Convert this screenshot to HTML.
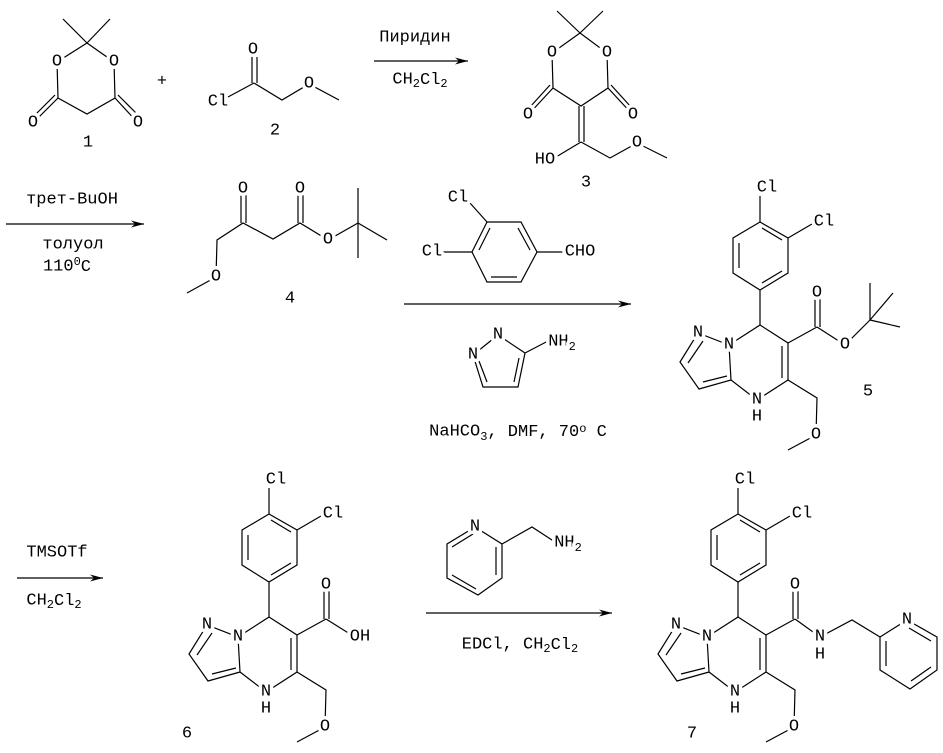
<!DOCTYPE html>
<html><head><meta charset="utf-8"><style>
html,body{margin:0;padding:0;background:#fff;}
svg{display:block;}
line,polyline,polygon.r{stroke:#000;stroke-width:1.2;fill:none;}
text{font-family:"Liberation Mono",monospace;font-size:17px;fill:#000;text-anchor:middle;dominant-baseline:central;}
text.a{paint-order:stroke;stroke:#fff;stroke-width:7px;stroke-linejoin:round;}
.s{font-size:12px;}
</style></head><body>
<svg width="943" height="753" viewBox="0 0 943 753" xmlns="http://www.w3.org/2000/svg">
<defs><marker id="ah" markerWidth="14" markerHeight="8" refX="13" refY="4" orient="auto" markerUnits="userSpaceOnUse"><polygon points="0,0.5 13,4 0,7.5 4,4" fill="#000"/></marker></defs>

<!-- Compound 1 -->
<line x1="87" y1="43" x2="63" y2="19"/><line x1="87" y1="43" x2="110" y2="19"/>
<polyline points="87,43 57,62 58,98 87,114 115,98 114,62 87,43"/>
<line x1="58" y1="98" x2="33" y2="123"/><line x1="55" y1="95" x2="35" y2="115"/>
<line x1="115" y1="98" x2="138" y2="123"/><line x1="118" y1="95" x2="138" y2="115"/>
<text class="a" x="57" y="62">O</text><text class="a" x="114" y="62">O</text>
<text class="a" x="33" y="123">O</text><text class="a" x="138" y="123">O</text>
<text x="88" y="143">1</text>
<text x="162" y="82">+</text>

<!-- Compound 2 -->
<line x1="228" y1="97" x2="254" y2="83"/>
<line x1="252" y1="83" x2="252" y2="55"/><line x1="257" y1="83" x2="257" y2="57"/>
<polyline points="254,83 282,100 309,84 339,100"/>
<text class="a" x="218" y="102">Cl</text><text class="a" x="253" y="50">O</text><text class="a" x="309" y="84">O</text>
<text x="275" y="131">2</text>

<!-- Arrow 1 -->
<line x1="374" y1="61" x2="468" y2="61" marker-end="url(#ah)"/>
<text x="415" y="38">Пиридин</text>
<text x="420" y="80">CH<tspan class="s" dy="4">2</tspan><tspan dy="-4">Cl</tspan><tspan class="s" dy="4">2</tspan></text>

<!-- Compound 3 -->
<line x1="580" y1="33" x2="557" y2="11"/><line x1="580" y1="33" x2="603" y2="11"/>
<polyline points="580,33 552,53 553,88 581,106 608,88 607,53 580,33"/>
<line x1="553" y1="88" x2="528" y2="115"/><line x1="550" y1="85" x2="530" y2="107"/>
<line x1="608" y1="88" x2="633" y2="115"/><line x1="611" y1="85" x2="631" y2="107"/>
<line x1="579" y1="106" x2="579" y2="142"/><line x1="584" y1="106" x2="584" y2="142"/>
<line x1="581" y1="142" x2="556" y2="157"/>
<polyline points="581,142 610,158 637,143 667,158"/>
<text class="a" x="552" y="53">O</text><text class="a" x="607" y="53">O</text>
<text class="a" x="528" y="115">O</text><text class="a" x="633" y="115">O</text>
<text class="a" x="545" y="160">HO</text><text class="a" x="637" y="143">O</text>
<text x="586" y="183">3</text>

<!-- Arrow 2 -->
<line x1="6" y1="224" x2="144" y2="224" marker-end="url(#ah)"/>
<text x="72" y="200">трет-BuOH</text>
<text x="73" y="245">толуол</text>
<text x="67" y="267">110<tspan class="s" dy="-5">0</tspan><tspan dy="5">C</tspan></text>

<!-- Compound 4 -->
<line x1="241" y1="223" x2="241" y2="195"/><line x1="246" y1="223" x2="246" y2="195"/>
<polyline points="187,293 216,277 217,240 243,223 273,239 300,223 328,240 358,223"/>
<line x1="298" y1="223" x2="298" y2="195"/><line x1="303" y1="223" x2="303" y2="195"/>
<line x1="358" y1="223" x2="358" y2="188"/><line x1="358" y1="223" x2="358" y2="258"/><line x1="358" y1="223" x2="387" y2="240"/>
<text class="a" x="243" y="189">O</text><text class="a" x="300" y="189">O</text>
<text class="a" x="328" y="240">O</text><text class="a" x="216" y="277">O</text>
<text x="290" y="299">4</text>

<!-- Aldehyde -->
<polyline points="487,222 521,222 537,252 521,282 487,282 472,252 487,222"/>
<line x1="479" y1="250" x2="490" y2="228"/><line x1="518" y1="228" x2="530" y2="250"/><line x1="517" y1="277" x2="491" y2="277"/>
<line x1="487" y1="222" x2="470" y2="203"/><line x1="472" y1="252" x2="440" y2="252"/><line x1="537" y1="252" x2="565" y2="252"/>
<text class="a" x="458" y="198">Cl</text><text class="a" x="432" y="252">Cl</text><text class="a" x="580" y="252">CHO</text>

<!-- Arrow 3 -->
<line x1="404" y1="304" x2="631" y2="304" marker-end="url(#ah)"/>

<!-- aminopyrazole -->
<polyline points="498,335 525,353 518,387 483,387 473,355 498,335"/>
<line x1="479" y1="361" x2="487" y2="382"/><line x1="514" y1="382" x2="519" y2="358"/>
<line x1="525" y1="353" x2="550" y2="340"/>
<text class="a" x="498" y="335">N</text><text class="a" x="473" y="355">N</text>
<text class="a" x="562" y="342">NH<tspan class="s" dy="5">2</tspan></text>
<text x="518" y="432">NaHCO<tspan class="s" dy="5">3</tspan><tspan dy="-5">, DMF, 70</tspan><tspan class="s" dy="-3">o</tspan><tspan dy="3"> C</tspan></text>

<!-- Core for 5, 6, 7 -->
<g id="c5">
<line x1="760" y1="222" x2="760" y2="196"/>
<polyline points="760,222 788,238 788,273 760,290 733,273 733,238 760,222"/>
<line x1="762" y1="228" x2="782" y2="240"/><line x1="782" y1="271" x2="762" y2="283"/><line x1="739" y1="243" x2="739" y2="268"/>
<line x1="788" y1="238" x2="812" y2="224"/>
<polyline points="760,290 760,325 729,345 698,333 680,362 699,389 731,380 729,345"/>
<line x1="703" y1="341" x2="688" y2="363"/><line x1="703" y1="382" x2="727" y2="376"/>
<polyline points="731,380 757,400 788,380 788,343 760,325"/>
<line x1="782" y1="378" x2="782" y2="346"/>
<polyline points="788,380 817,398 816,435 788,450"/>
<text class="a" x="767" y="188">Cl</text><text class="a" x="824" y="222">Cl</text>
<text class="a" x="698" y="333">N</text><text class="a" x="729" y="345">N</text>
<text class="a" x="757" y="400">N</text><text class="a" x="757" y="417">H</text>
<text class="a" x="816" y="435">O</text>
</g>
<g transform="translate(-491,292)">
<line x1="760" y1="222" x2="760" y2="196"/>
<polyline points="760,222 788,238 788,273 760,290 733,273 733,238 760,222"/>
<line x1="762" y1="228" x2="782" y2="240"/><line x1="782" y1="271" x2="762" y2="283"/><line x1="739" y1="243" x2="739" y2="268"/>
<line x1="788" y1="238" x2="812" y2="224"/>
<polyline points="760,290 760,325 729,345 698,333 680,362 699,389 731,380 729,345"/>
<line x1="703" y1="341" x2="688" y2="363"/><line x1="703" y1="382" x2="727" y2="376"/>
<polyline points="731,380 757,400 788,380 788,343 760,325"/>
<line x1="782" y1="378" x2="782" y2="346"/>
<polyline points="788,380 817,398 816,435 788,450"/>
<text class="a" x="767" y="188">Cl</text><text class="a" x="824" y="222">Cl</text>
<text class="a" x="698" y="333">N</text><text class="a" x="729" y="345">N</text>
<text class="a" x="757" y="400">N</text><text class="a" x="757" y="417">H</text>
<text class="a" x="816" y="435">O</text>
</g>
<g transform="translate(-22,292)">
<line x1="760" y1="222" x2="760" y2="196"/>
<polyline points="760,222 788,238 788,273 760,290 733,273 733,238 760,222"/>
<line x1="762" y1="228" x2="782" y2="240"/><line x1="782" y1="271" x2="762" y2="283"/><line x1="739" y1="243" x2="739" y2="268"/>
<line x1="788" y1="238" x2="812" y2="224"/>
<polyline points="760,290 760,325 729,345 698,333 680,362 699,389 731,380 729,345"/>
<line x1="703" y1="341" x2="688" y2="363"/><line x1="703" y1="382" x2="727" y2="376"/>
<polyline points="731,380 757,400 788,380 788,343 760,325"/>
<line x1="782" y1="378" x2="782" y2="346"/>
<polyline points="788,380 817,398 816,435 788,450"/>
<text class="a" x="767" y="188">Cl</text><text class="a" x="824" y="222">Cl</text>
<text class="a" x="698" y="333">N</text><text class="a" x="729" y="345">N</text>
<text class="a" x="757" y="400">N</text><text class="a" x="757" y="417">H</text>
<text class="a" x="816" y="435">O</text>
</g>

<!-- 5 ester -->
<line x1="788" y1="343" x2="817" y2="327"/>
<line x1="815" y1="327" x2="815" y2="299"/><line x1="820" y1="327" x2="820" y2="299"/>
<polyline points="817,327 845,345 870,320"/>
<line x1="870" y1="320" x2="870" y2="283"/><line x1="870" y1="320" x2="893" y2="293"/><line x1="870" y1="320" x2="900" y2="327"/>
<text class="a" x="817" y="293">O</text><text class="a" x="845" y="345">O</text>
<text x="868" y="392">5</text>

<!-- Arrow 4 -->
<text x="57" y="553">TMSOTf</text>
<line x1="17" y1="578" x2="103" y2="578" marker-end="url(#ah)"/>
<text x="54" y="601">CH<tspan class="s" dy="4">2</tspan><tspan dy="-4">Cl</tspan><tspan class="s" dy="4">2</tspan></text>

<!-- 6 acid -->
<line x1="297" y1="635" x2="326" y2="619"/>
<line x1="324" y1="619" x2="324" y2="591"/><line x1="329" y1="619" x2="329" y2="591"/>
<line x1="326" y1="619" x2="350" y2="634"/>
<text class="a" x="326" y="585">O</text><text class="a" x="360" y="637">OH</text>
<text x="187" y="734">6</text>

<!-- pyridylmethylamine -->
<polyline points="475,527 502,544 502,578 478,595 447,578 447,544 475,527"/>
<line x1="496" y1="547" x2="496" y2="575"/><line x1="476" y1="589" x2="452" y2="575"/><line x1="452" y1="547" x2="473" y2="534"/>
<polyline points="502,544 532,527 555,542"/>
<text class="a" x="475" y="527">N</text>
<text class="a" x="568" y="543">NH<tspan class="s" dy="5">2</tspan></text>
<line x1="426" y1="613" x2="612" y2="613" marker-end="url(#ah)"/>
<text x="520" y="645">EDCl, CH<tspan class="s" dy="4">2</tspan><tspan dy="-4">Cl</tspan><tspan class="s" dy="4">2</tspan></text>

<!-- 7 amide -->
<line x1="766" y1="635" x2="795" y2="619"/>
<line x1="793" y1="619" x2="793" y2="591"/><line x1="798" y1="619" x2="798" y2="591"/>
<polyline points="795,619 820,637 852,620 880,637"/>
<polyline points="880,637 907,620 937,637 937,670 910,689 880,670 880,637"/>
<line x1="909" y1="628" x2="931" y2="641"/><line x1="931" y1="667" x2="911" y2="681"/><line x1="886" y1="641" x2="886" y2="666"/>
<text class="a" x="795" y="585">O</text><text class="a" x="820" y="637">N</text><text class="a" x="820" y="655">H</text>
<text class="a" x="907" y="620">N</text>
<text x="692" y="734">7</text>
</svg>
</body></html>
